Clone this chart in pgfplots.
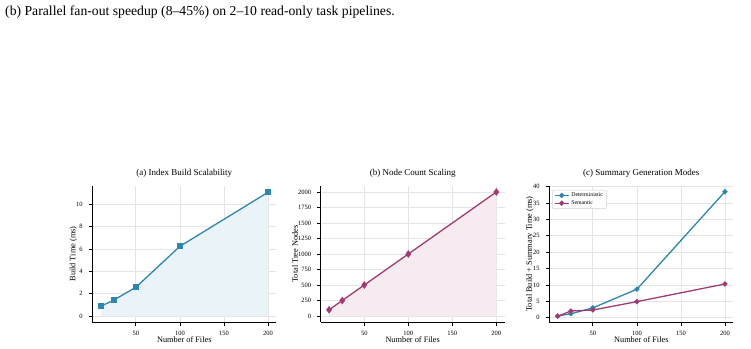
\documentclass[border=0pt]{standalone}
\usepackage{fontspec}
\setmainfont{Liberation Serif}
\usepackage{pgfplots}
\pgfplotsset{compat=1.18}
\definecolor{cblue}{HTML}{2E86AB}
\definecolor{cpink}{HTML}{A23B72}
\definecolor{gridc}{HTML}{E4E4E4}
\pgfplotsset{
  myax/.style={
    scale only axis, width=184pt, height=136.4pt,
    axis x line*=bottom, axis y line*=left,
    axis line style={-, black, line width=0.8pt},
    xmin=0.5, xmax=209.5, xtick={50,100,150,200},
    grid=major, major grid style={gridc, line width=0.8pt},
    tick align=outside, major tick length=3.5pt,
    tick style={black, line width=0.8pt},
    ticklabel style={font=\fontsize{6.5}{7}\selectfont, inner sep=0pt},
    xticklabel style={anchor=north, yshift=-5pt},
    yticklabel style={anchor=east, xshift=-6pt},
    /pgf/number format/assume math mode=true,
    /pgf/number format/1000 sep={},
    label style={font=\fontsize{8.3}{9}\selectfont, inner sep=0pt},
    title style={font=\fontsize{9}{10}\selectfont, inner sep=0pt, at={(axis description cs:0.5,1)}, anchor=base, yshift=4pt},
    xlabel style={at={(axis description cs:0.5,0)}, anchor=base, yshift=-19.8pt},
    every axis plot/.append style={line width=1.3pt},
  }
}
\begin{document}
\begin{tikzpicture}
\useasboundingbox (0,0) rectangle (751pt,348pt);
\node[anchor=base west, inner sep=0pt, font=\fontsize{13.7}{16}\selectfont] at (5pt,332.5pt) {(b) Parallel fan-out speedup (8--45\%) on 2--10 read-only task pipelines.};

% (a)
\begin{axis}[myax, at={(92.3pt,25.8pt)}, anchor=south west,
  ymin=-0.555, ymax=11.655, ytick={0,2,4,6,8,10},
  title={(a) Index Build Scalability},
  xlabel={Number of Files}, ylabel={Build Time (ms)},
  ylabel style={at={(axis description cs:-0.103,0.5)}, anchor=center}]
\addplot[draw=none, fill=cblue!10] coordinates {(10,0)(10,0.87)(25,1.43)(50,2.57)(100,6.24)(200,11.07)(200,0)} -- cycle;
\addplot[cblue, mark=square*, mark size=2.4pt, mark options={solid}] coordinates {(10,0.87)(25,1.43)(50,2.57)(100,6.24)(200,11.07)};
\end{axis}

% (b)
\begin{axis}[myax, at={(320.7pt,25.8pt)}, anchor=south west,
  ymin=-100, ymax=2100, ytick={0,250,500,750,1000,1250,1500,1750,2000},
  title={(b) Node Count Scaling},
  xlabel={Number of Files}, ylabel={Total Tree Nodes},
  ylabel style={at={(axis description cs:-0.14,0.5)}, anchor=center}]
\addplot[draw=none, fill=cpink!10] coordinates {(10,0)(10,100)(25,250)(50,500)(100,1000)(200,2000)(200,0)} -- cycle;
\addplot[cpink, mark=diamond*, mark size=2.8pt, mark options={solid}] coordinates {(10,100)(25,250)(50,500)(100,1000)(200,2000)};
\end{axis}

% (c)
\begin{axis}[myax, at={(549.3pt,25.8pt)}, anchor=south west,
  ymin=-1.38, ymax=40.3, ytick={0,5,10,15,20,25,30,35,40},
  title={(c) Summary Generation Modes},
  xlabel={Number of Files}, ylabel={Total Build + Summary Time (ms)},
  ylabel style={at={(axis description cs:-0.105,0.5)}, anchor=center},
  legend style={at={(axis description cs:0,1)}, anchor=north west, xshift=3pt, yshift=-4pt,
    font=\fontsize{5.8}{6.5}\selectfont, draw=gray!35, rounded corners=1pt,
    inner xsep=1.5pt, inner ysep=1.5pt, line width=0.5pt,
    nodes={inner xsep=2pt, inner ysep=1.2pt}},
  legend cell align=left,
  legend image code/.code={\draw[mark repeat=2, mark phase=2, #1] plot coordinates {(0pt,0pt)(7pt,0pt)(14pt,0pt)};}]
\addplot[cblue, mark=*, mark size=1.9pt] coordinates {(10,0.5)(25,1.2)(50,3.0)(100,8.7)(200,38.5)};
\addlegendentry{Deterministic}
\addplot[cpink, mark=*, mark size=1.9pt] coordinates {(10,0.45)(25,2.05)(50,2.35)(100,4.9)(200,10.3)};
\addlegendentry{Semantic}
\end{axis}
\end{tikzpicture}
\end{document}
